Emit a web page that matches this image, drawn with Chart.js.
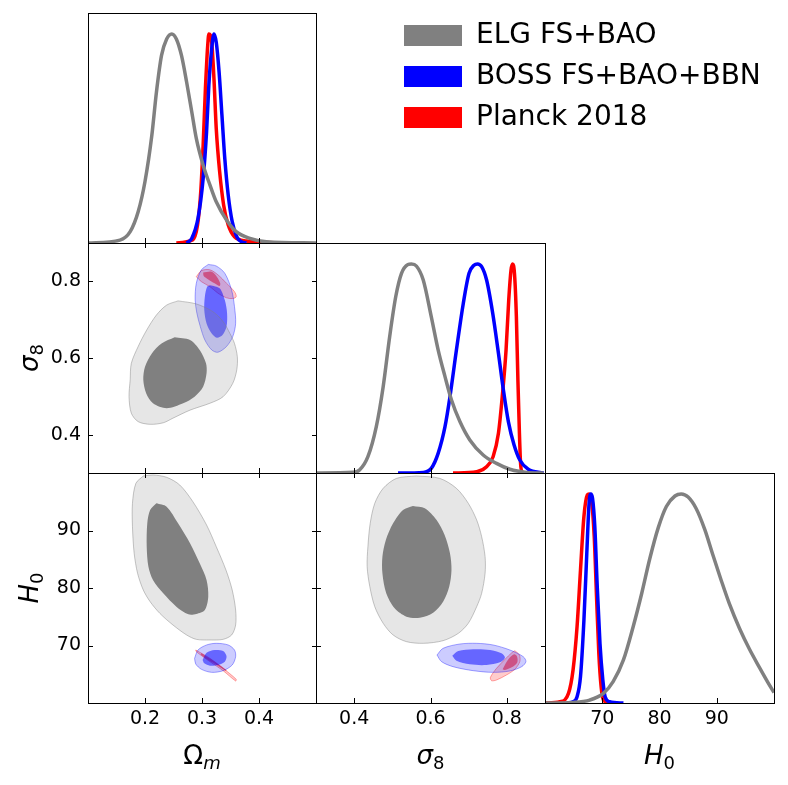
<!DOCTYPE html>
<html>
<head>
<meta charset="utf-8">
<script src="https://cdn.jsdelivr.net/npm/chart.js@4.4.1/dist/chart.umd.min.js"></script>
<style>
  body { margin: 0; background: #fff; }
  #wrap { position: relative; width: 788px; height: 785px; overflow: hidden; }
  #wrap canvas { position: absolute; left: 0; top: 0; }
</style>
</head>
<body>
<div id="wrap">
  <canvas id="c_leg" width="788" height="785"></canvas>
  <canvas id="c_om" width="788" height="785"></canvas>
  <canvas id="c_oms8" width="788" height="785"></canvas>
  <canvas id="c_s8" width="788" height="785"></canvas>
  <canvas id="c_omh0" width="788" height="785"></canvas>
  <canvas id="c_s8h0" width="788" height="785"></canvas>
  <canvas id="c_h0" width="788" height="785"></canvas>
</div>
<script>
// axes
var omRange = [0.1, 0.5], s8Range = [0.3, 0.9], h0Range = [60, 100];
var omTicks = [0.2, 0.3, 0.4], s8Ticks = [0.4, 0.6, 0.8], h0Ticks = [70, 80, 90];
var seriesNames = ['ELG FS+BAO', 'BOSS FS+BAO+BBN', 'Planck 2018'];
var seriesColors = ['#808080', '#0000ff', '#ff0000'];

// 1D marginals [value, normalised density]
var om1dElg = [[0.100,0],[0.156,0.014],[0.174,0.054],[0.188,0.149],[0.200,0.294],[0.212,0.515],[0.220,0.72],[0.229,0.897],[0.238,0.976],[0.247,1],[0.255,0.976],[0.264,0.897],[0.273,0.77],[0.282,0.628],[0.290,0.5],[0.302,0.372],[0.314,0.277],[0.325,0.197],[0.343,0.11],[0.360,0.054],[0.384,0.022],[0.413,0.006],[0.500,0]];
var om1dBoss = [[0.273,0],[0.282,0.022],[0.293,0.118],[0.302,0.308],[0.308,0.531],[0.312,0.754],[0.317,0.928],[0.321,1],[0.325,0.96],[0.330,0.817],[0.335,0.61],[0.340,0.404],[0.346,0.229],[0.353,0.102],[0.361,0.03],[0.369,0.006],[0.378,0]];
var om1dPlanck = [[0.255,0],[0.279,0.01],[0.290,0.054],[0.297,0.213],[0.302,0.467],[0.306,0.738],[0.310,0.944],[0.312,1],[0.317,0.96],[0.321,0.785],[0.325,0.547],[0.331,0.34],[0.338,0.181],[0.346,0.086],[0.357,0.03],[0.378,0.01],[0.448,0]];

var s81dElg = [[0.300,0],[0.397,0.003],[0.414,0.014],[0.436,0.078],[0.458,0.222],[0.476,0.413],[0.493,0.652],[0.509,0.844],[0.524,0.955],[0.541,0.997],[0.550,1],[0.563,0.99],[0.581,0.923],[0.602,0.748],[0.620,0.589],[0.638,0.461],[0.655,0.349],[0.677,0.246],[0.703,0.158],[0.738,0.086],[0.773,0.046],[0.808,0.018],[0.852,0.003],[0.896,0]];
var s81dBoss = [[0.515,0],[0.581,0.003],[0.602,0.022],[0.620,0.094],[0.638,0.222],[0.651,0.365],[0.668,0.589],[0.686,0.812],[0.701,0.955],[0.714,0.994],[0.723,1],[0.734,0.987],[0.747,0.923],[0.763,0.764],[0.778,0.573],[0.791,0.397],[0.804,0.246],[0.819,0.134],[0.834,0.062],[0.856,0.018],[0.896,0]];
var s81dPlanck = [[0.659,0],[0.721,0.006],[0.747,0.03],[0.764,0.078],[0.778,0.19],[0.788,0.365],[0.798,0.589],[0.805,0.828],[0.811,0.971],[0.815,1],[0.820,0.955],[0.825,0.748],[0.829,0.445],[0.833,0.19],[0.836,0.046],[0.840,0.006],[0.848,0]];

var h01dElg = [[60,0],[64.9,0.003],[67.8,0.014],[70.2,0.046],[71.9,0.102],[73.7,0.206],[75.4,0.365],[76.9,0.525],[78.3,0.69],[79.8,0.84],[81.2,0.94],[82.7,0.99],[83.8,1],[85.0,0.985],[86.4,0.93],[87.9,0.83],[89.3,0.71],[90.8,0.585],[92.2,0.475],[94.0,0.355],[95.7,0.258],[97.5,0.168],[98.9,0.1],[100,0.05]];
var h01dBoss = [[63.8,0],[64.9,0.006],[65.6,0.03],[66.2,0.126],[66.8,0.397],[67.3,0.716],[67.7,0.955],[68.0,1],[68.3,0.979],[68.7,0.844],[69.1,0.573],[69.6,0.285],[70.1,0.11],[70.5,0.03],[71.3,0.006],[73.7,0]];
var h01dPlanck = [[60,0],[62.6,0.006],[64.1,0.046],[64.9,0.158],[65.6,0.365],[66.2,0.636],[66.8,0.892],[67.4,0.995],[67.7,1],[68.1,0.971],[68.6,0.796],[69.0,0.509],[69.4,0.238],[69.8,0.078],[70.2,0.014],[71.3,0]];

// 2D contours (68% inner, 95% outer)
var omS8ElgOuter = [[0.258,0.749],[0.290,0.741],[0.319,0.721],[0.337,0.695],[0.349,0.664],[0.357,0.638],[0.362,0.603],[0.361,0.569],[0.354,0.534],[0.337,0.499],[0.314,0.482],[0.279,0.464],[0.249,0.443],[0.232,0.431],[0.209,0.427],[0.188,0.434],[0.176,0.456],[0.172,0.499],[0.174,0.543],[0.176,0.586],[0.188,0.630],[0.203,0.673],[0.220,0.712],[0.238,0.738]];
var omS8ElgInner = [[0.252,0.654],[0.279,0.647],[0.296,0.621],[0.307,0.586],[0.308,0.560],[0.302,0.525],[0.287,0.499],[0.267,0.482],[0.238,0.469],[0.214,0.482],[0.202,0.508],[0.197,0.543],[0.200,0.577],[0.212,0.612],[0.229,0.638]];
var omS8BossOuter = [[0.311,0.844],[0.325,0.840],[0.340,0.821],[0.352,0.777],[0.357,0.734],[0.359,0.690],[0.354,0.656],[0.343,0.630],[0.328,0.615],[0.317,0.621],[0.305,0.647],[0.297,0.682],[0.291,0.717],[0.288,0.751],[0.290,0.795],[0.299,0.830]];
var omS8BossInner = [[0.314,0.790],[0.331,0.782],[0.340,0.751],[0.344,0.717],[0.343,0.682],[0.336,0.660],[0.326,0.653],[0.317,0.664],[0.308,0.690],[0.304,0.725],[0.305,0.760],[0.309,0.786]];
var omS8PlanckOuter = [[0.290,0.812],[0.299,0.828],[0.314,0.830],[0.328,0.817],[0.343,0.795],[0.357,0.773],[0.360,0.760],[0.354,0.755],[0.343,0.757],[0.328,0.769],[0.314,0.786],[0.299,0.799]];
var omS8PlanckInner = [[0.302,0.823],[0.317,0.825],[0.326,0.812],[0.332,0.795],[0.331,0.788],[0.322,0.795],[0.311,0.805],[0.303,0.814]];

var omH0ElgOuter = [[0.197,99.48],[0.214,99.65],[0.238,99.25],[0.261,97.91],[0.284,95.01],[0.308,90.96],[0.325,87.19],[0.342,83.13],[0.353,79.65],[0.359,76.17],[0.359,73.57],[0.352,71.83],[0.337,71.07],[0.314,70.96],[0.290,71.07],[0.273,71.83],[0.249,73.57],[0.226,75.59],[0.209,77.62],[0.197,79.65],[0.187,82.55],[0.181,86.03],[0.178,90.67],[0.178,94.73],[0.184,98.2]];
var omH0ElgInner = [[0.220,94.73],[0.238,94.14],[0.258,91.25],[0.279,87.77],[0.296,84.29],[0.308,81.39],[0.311,78.49],[0.305,76.17],[0.290,75.48],[0.276,75.42],[0.255,76.75],[0.232,79.07],[0.214,81.39],[0.206,83.71],[0.203,87.19],[0.204,91.25],[0.209,93.57]];
var omH0BossOuter = [[0.287,67.77],[0.293,69.22],[0.308,70.09],[0.325,70.38],[0.346,70.09],[0.357,69.22],[0.359,68.06],[0.353,66.61],[0.337,65.62],[0.317,65.33],[0.299,65.86],[0.289,66.78]];
var omH0BossInner = [[0.301,67.48],[0.308,68.75],[0.322,69.22],[0.337,69.04],[0.343,68.17],[0.340,67.19],[0.328,66.61],[0.314,66.49],[0.304,66.9]];
var omH0PlanckOuter = [[0.289,69.22],[0.314,67.77],[0.337,66.03],[0.360,64.12],[0.359,63.83],[0.337,65.62],[0.314,67.19],[0.290,68.93]];
var omH0PlanckInner = [[0.299,68.64],[0.322,67.19],[0.343,65.74],[0.342,65.57],[0.321,66.9],[0.298,68.41]];

var s8H0ElgOuter = [[0.563,99.48],[0.624,99.07],[0.668,97.33],[0.699,94.73],[0.721,91.83],[0.734,88.93],[0.743,85.45],[0.743,82.55],[0.734,79.07],[0.721,76.75],[0.699,73.86],[0.673,72.12],[0.633,70.84],[0.581,70.38],[0.537,70.67],[0.502,71.83],[0.476,73.86],[0.454,76.75],[0.441,80.23],[0.434,83.71],[0.436,87.19],[0.442,91.25],[0.454,94.73],[0.476,97.33],[0.511,99.07]];
var s8H0ElgInner = [[0.554,94.26],[0.585,93.86],[0.616,91.83],[0.637,89.22],[0.651,86.03],[0.655,83.13],[0.649,80.23],[0.633,77.62],[0.607,75.71],[0.572,74.84],[0.537,75.01],[0.506,76.46],[0.484,79.07],[0.474,82.55],[0.474,85.45],[0.483,88.35],[0.502,91.25],[0.528,93.57]];
var s8H0BossOuter = [[0.617,68.35],[0.633,69.51],[0.677,70.26],[0.721,70.38],[0.764,70.09],[0.808,69.22],[0.843,68.06],[0.850,67.19],[0.839,66.32],[0.808,65.57],[0.764,65.33],[0.712,65.62],[0.659,66.32],[0.629,67.19]];
var s8H0BossInner = [[0.657,68.23],[0.673,69.04],[0.712,69.33],[0.756,69.22],[0.786,68.64],[0.795,67.88],[0.782,67.07],[0.747,66.61],[0.703,66.72],[0.668,67.36]];
var s8H0PlanckOuter = [[0.821,69.1],[0.833,68.35],[0.834,67.19],[0.821,65.86],[0.799,64.87],[0.773,64.0],[0.760,63.88],[0.757,64.46],[0.773,66.03],[0.795,67.59],[0.813,68.75]];
var s8H0PlanckInner = [[0.789,65.86],[0.804,67.59],[0.819,68.46],[0.827,68.06],[0.827,67.01],[0.813,66.2],[0.795,65.74]];

Chart.defaults.font.family = "'DejaVu Sans', sans-serif";
Chart.defaults.color = '#000';

// panel boxes in page pixels: [left/top, size]
var COLS = [[88, 228], [316, 229], [545, 229]];
var ROWS = [[13, 230], [243, 230], [473, 230]];
var TICK_LEN = 5;
var Y_LABEL_W = 88, X_LABEL_H = 80;

function toPts(a) { return a.map(function(p) { return {x: p[0], y: p[1]}; }); }

function curve(a, i) {
  return {
    data: toPts(a), borderColor: seriesColors[i], borderWidth: 3.5, fill: false,
    pointRadius: 0, cubicInterpolationMode: 'monotone'
  };
}

function contour(a, fillColor, edgeColor) {
  return {
    data: toPts(a.concat([a[0]])), backgroundColor: fillColor,
    borderColor: edgeColor || 'rgba(0,0,0,0)', borderWidth: edgeColor ? 1 : 0,
    fill: 'shape', pointRadius: 0, tension: 0.3
  };
}

function axis(pos, range, ticks, labels) {
  var size = labels ? (pos === 'bottom' ? X_LABEL_H : Y_LABEL_W) : 0;
  return {
    type: 'linear', position: pos, min: range[0], max: range[1], bounds: 'data',
    afterBuildTicks: function(s) { s.ticks = ticks.map(function(v) { return {value: v}; }); },
    afterFit: function(s) { if (pos === 'bottom') s.height = size; else s.width = size; },
    grid: {display: false, drawTicks: false},
    border: {display: false},
    ticks: {
      display: labels, padding: pos === 'bottom' ? 5 : 7, color: '#000',
      font: {size: 19}, callback: function(v) { return String(v); }
    }
  };
}

// box around each panel with inward tick marks
var framePlugin = {
  id: 'frame',
  afterDraw: function(chart, args, opts) {
    var a = chart.chartArea, ctx = chart.ctx;
    ctx.save();
    ctx.strokeStyle = '#000';
    ctx.lineWidth = 1;
    ctx.strokeRect(a.left + 0.5, a.top + 0.5, a.right - a.left, a.bottom - a.top);
    (opts.sides || []).forEach(function(side) {
      var horiz = side === 'top' || side === 'bottom';
      var s = horiz ? chart.scales.x : chart.scales.y;
      s.ticks.forEach(function(t) {
        var p = Math.round(s.getPixelForValue(t.value)) + 0.5;
        ctx.beginPath();
        if (side === 'bottom') { ctx.moveTo(p, a.bottom); ctx.lineTo(p, a.bottom - TICK_LEN); }
        if (side === 'top') { ctx.moveTo(p, a.top); ctx.lineTo(p, a.top + TICK_LEN); }
        if (side === 'left') { ctx.moveTo(a.left, p); ctx.lineTo(a.left + TICK_LEN, p); }
        if (side === 'right') { ctx.moveTo(a.right + 1, p); ctx.lineTo(a.right + 1 - TICK_LEN, p); }
        ctx.stroke();
      });
    });
    ctx.restore();
  }
};

function drawRich(ctx, parts, x, y, rot) {
  ctx.save();
  ctx.translate(x, y);
  ctx.rotate(rot);
  ctx.fillStyle = '#000';
  ctx.textBaseline = 'alphabetic';
  ctx.textAlign = 'left';
  var fonts = parts.map(function(p) {
    return (p.it ? 'italic ' : '') + (p.sub ? '18px' : '26px') + " 'DejaVu Sans', sans-serif";
  });
  var widths = [], total = 0;
  parts.forEach(function(p, i) { ctx.font = fonts[i]; widths[i] = ctx.measureText(p.t).width; total += widths[i]; });
  var cx = -total / 2;
  parts.forEach(function(p, i) { ctx.font = fonts[i]; ctx.fillText(p.t, cx, p.sub ? 5 : 0); cx += widths[i]; });
  ctx.restore();
}

var titlePlugin = {
  id: 'axisTitles',
  afterDraw: function(chart, args, opts) {
    var a = chart.chartArea;
    if (opts.x) drawRich(chart.ctx, opts.x, (a.left + a.right) / 2, a.bottom + 61, 0);
    if (opts.y) drawRich(chart.ctx, opts.y, a.left - 50, (a.top + a.bottom) / 2, -Math.PI / 2);
  }
};

var omTitle = [{t: '\u03A9'}, {t: 'm', it: true, sub: true}];
var s8Title = [{t: '\u03C3', it: true}, {t: '8', sub: true}];
var h0Title = [{t: 'H', it: true}, {t: '0', sub: true}];

function panel(id, col, row, xAxis, yAxis, datasets, sides, xTitle, yTitle) {
  var c = COLS[col], r = ROWS[row];
  var yw = (yAxis.ticks && yAxis.ticks.display) ? Y_LABEL_W : 0;
  var xh = (xAxis.ticks && xAxis.ticks.display) ? X_LABEL_H : 0;
  return new Chart(document.getElementById(id), {
    type: 'line',
    data: {datasets: datasets},
    options: {
      responsive: false, animation: false, events: [],
      layout: {padding: {left: c[0] - yw, top: r[0], right: 788 - c[0] - c[1], bottom: 785 - r[0] - r[1] - xh}},
      scales: {x: xAxis, y: yAxis},
      plugins: {
        legend: {display: false}, tooltip: {enabled: false},
        frame: {sides: sides}, axisTitles: {x: xTitle, y: yTitle}
      }
    },
    plugins: [framePlugin, titlePlugin]
  });
}

var hiddenY = {type: 'linear', display: false, min: 0, max: 1.1};
var ALL = ['bottom', 'top', 'left', 'right'];

var G1 = 'rgba(128,128,128,0.2)', G1e = 'rgba(128,128,128,0.45)', G2 = '#808080';
var B1 = 'rgba(0,0,255,0.2)', B1e = 'rgba(0,0,255,0.35)', B2 = 'rgba(0,0,255,0.5)';
var R1 = 'rgba(255,0,0,0.2)', R1e = 'rgba(255,0,0,0.35)', R2 = 'rgba(255,0,0,0.5)';

panel('c_om', 0, 0, axis('bottom', omRange, omTicks, false), hiddenY,
  [curve(om1dElg, 0), curve(om1dBoss, 1), curve(om1dPlanck, 2)], ['bottom']);

panel('c_oms8', 0, 1, axis('bottom', omRange, omTicks, false), axis('left', s8Range, s8Ticks, true), [
  contour(omS8ElgOuter, G1, G1e), contour(omS8ElgInner, G2),
  contour(omS8BossOuter, B1, B1e), contour(omS8BossInner, B2),
  contour(omS8PlanckOuter, R1, R1e), contour(omS8PlanckInner, R2)
], ALL, null, s8Title);

panel('c_s8', 1, 1, axis('bottom', s8Range, s8Ticks, false), hiddenY,
  [curve(s81dElg, 0), curve(s81dBoss, 1), curve(s81dPlanck, 2)], ['bottom']);

panel('c_omh0', 0, 2, axis('bottom', omRange, omTicks, true), axis('left', h0Range, h0Ticks, true), [
  contour(omH0ElgOuter, G1, G1e), contour(omH0ElgInner, G2),
  contour(omH0BossOuter, B1, B1e), contour(omH0BossInner, B2),
  contour(omH0PlanckOuter, R1, R1e), contour(omH0PlanckInner, R2)
], ALL, omTitle, h0Title);

panel('c_s8h0', 1, 2, axis('bottom', s8Range, s8Ticks, true), axis('left', h0Range, h0Ticks, false), [
  contour(s8H0ElgOuter, G1, G1e), contour(s8H0ElgInner, G2),
  contour(s8H0BossOuter, B1, B1e), contour(s8H0BossInner, B2),
  contour(s8H0PlanckOuter, R1, R1e), contour(s8H0PlanckInner, R2)
], ALL, s8Title, null);

panel('c_h0', 2, 2, axis('bottom', h0Range, h0Ticks, true), hiddenY,
  [curve(h01dElg, 0), curve(h01dBoss, 1), curve(h01dPlanck, 2)], ['bottom'], h0Title, null);

// legend
new Chart(document.getElementById('c_leg'), {
  type: 'line',
  data: {
    datasets: seriesNames.map(function(n, i) {
      return {label: n, data: [], backgroundColor: seriesColors[i], borderColor: seriesColors[i], borderWidth: 0};
    })
  },
  options: {
    responsive: false, animation: false, events: [],
    layout: {padding: {left: 391, top: 8.5}},
    scales: {x: {display: false}, y: {display: false}},
    plugins: {
      tooltip: {enabled: false},
      legend: {
        display: true, position: 'top', align: 'start',
        labels: {boxWidth: 58, boxHeight: 21, padding: 13, color: '#000', font: {size: 28}}
      }
    }
  }
});
</script>
</body>
</html>
